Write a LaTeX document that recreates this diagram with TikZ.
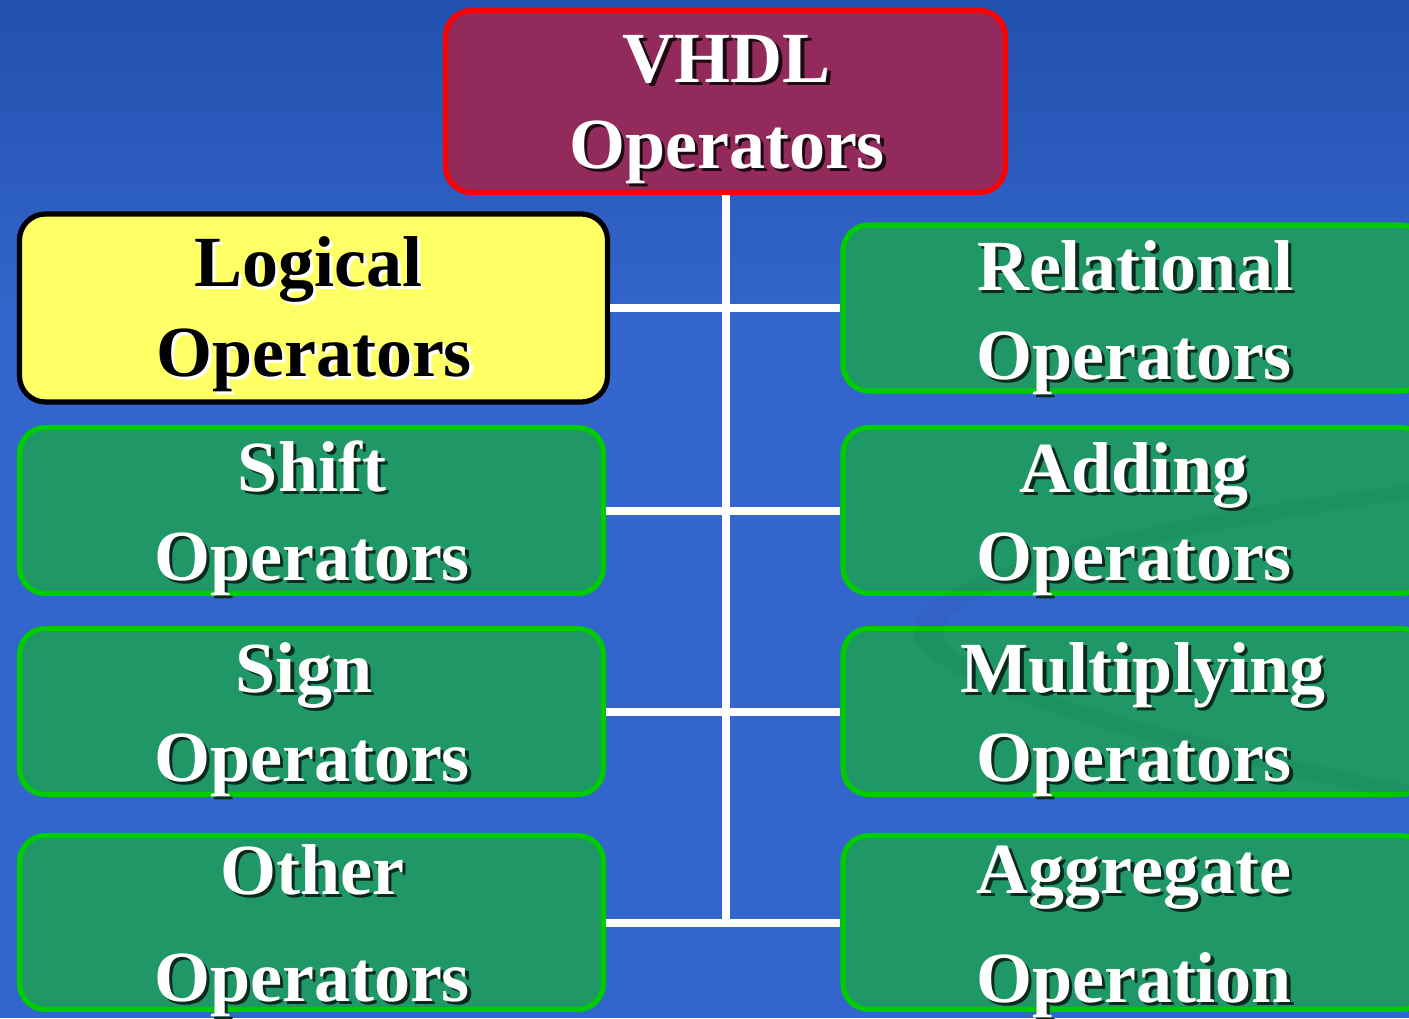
\documentclass[tikz,border=0pt]{standalone}
\usepackage{fontspec}
\setmainfont{Liberation Serif}
\definecolor{bgtop}{HTML}{2250AE}
\definecolor{bgmain}{HTML}{3366CC}
\definecolor{rootfill}{HTML}{922B5B}
\definecolor{leaffill}{HTML}{1F9766}
\definecolor{leafedge}{HTML}{00CC00}
\definecolor{logicfill}{HTML}{FFFF66}
\colorlet{shc}{black}
% text with a small drop shadow, shadow colour taken from shc
\newcommand\shd[1]{\leavevmode\rlap{\kern1.7pt\raisebox{-1.7pt}{\color{shc}#1}}#1}
\tikzset{
  box/.style={rectangle, rounded corners=13pt, line width=2.6pt, inner sep=0pt},
  rootbox/.style={box, draw=red, fill=rootfill, minimum width=280pt, minimum height=91pt},
  logicbox/.style={box, draw=black, fill=logicfill, minimum width=294pt, minimum height=94pt},
  leafbox/.style={box, draw=leafedge, fill=leaffill, minimum width=292pt, minimum height=83pt},
  tallleaf/.style={leafbox, minimum height=87pt},
  lbl/.style={inner sep=0pt, anchor=base, text=white, font=\fontsize{36}{44}\selectfont\bfseries,
    execute at begin node=\colorlet{shc}{black!72!leaffill}},
  rootlbl/.style={lbl, execute at begin node=\colorlet{shc}{black!80!rootfill}},
  darklbl/.style={lbl, text=black, execute at begin node=\colorlet{shc}{white}},
  wire/.style={draw=white, line width=4pt}
}
\begin{document}
\begin{tikzpicture}[x=0.5pt, y=-0.5pt]
\useasboundingbox (0,0) rectangle (1409,1018);
% backdrop
\fill[bgmain] (0,0) rectangle (1409,1018);
\shade[top color=bgtop, bottom color=bgmain] (0,0) rectangle (1409,320);

% boxes
\node[rootbox]  (root) at (725.5,101.5) {};
\node[logicbox] (logic) at (313.5,308) {};
\node[leafbox]  (shift) at (311.5,510.5) {};
\node[leafbox]  (sign)  at (311.5,711.5) {};
\node[tallleaf] (other) at (311.5,922.5) {};
\node[leafbox]  (rel)   at (1135,308) {};
\node[leafbox]  (add)   at (1135,510.5) {};
\node[leafbox]  (mul)   at (1135,711.5) {};
\node[tallleaf] (agg)   at (1135,922.5) {};

% faint swoosh of the slide backdrop
\fill[black, opacity=0.035]
  (1409,485) .. controls (1080,525) and (890,590) .. (915,640)
  .. controls (945,695) and (1200,760) .. (1409,800)
  -- (1409,785) .. controls (1190,740) and (975,685) .. (945,640)
  .. controls (920,600) and (1100,540) .. (1409,500) -- cycle;

% tree connectors
\coordinate (trunkend) at (726,922.5);
\draw[wire] (root.south -| trunkend) -- (trunkend);
\draw[wire] (logic.east) -- (rel.west);
\draw[wire] (shift.east) -- (add.west);
\draw[wire] (sign.east) -- (mul.west);
\draw[wire] (other.east) -- (agg.west);

% labels
\node[rootlbl] (rootA) at (727,82)  {\shd{VHDL}};
\node[rootlbl] (rootB) at (727,168) {\shd{Operators}};
\node[darklbl] (logicA) at (308,286) {\shd{Logical}};
\node[darklbl] (logicB) at (314,376) {\shd{Operators}};
\node[lbl] (shiftA) at (312,491) {\shd{Shift}};
\node[lbl] (shiftB) at (312,580) {\shd{Operators}};
\node[lbl] (signA)  at (304,692) {\shd{Sign}};
\node[lbl] (signB)  at (312,781) {\shd{Operators}};
\node[lbl] (otherA) at (312,894) {\shd{Other}};
\node[lbl] (otherB) at (312,1001) {\shd{Operators}};
\node[lbl] (relA) at (1135,290) {\shd{Relational}};
\node[lbl] (relB) at (1134,379) {\shd{Operators}};
\node[lbl] (addA) at (1134,492) {\shd{Adding}};
\node[lbl] (addB) at (1134,580) {\shd{Operators}};
\node[lbl] (mulA) at (1143,692) {\shd{Multiplying}};
\node[lbl] (mulB) at (1134,781) {\shd{Operators}};
\node[lbl] (aggA) at (1134,893) {\shd{Aggregate}};
\node[lbl] (aggB) at (1134,1002) {\shd{Operation}};
\end{tikzpicture}
\end{document}
